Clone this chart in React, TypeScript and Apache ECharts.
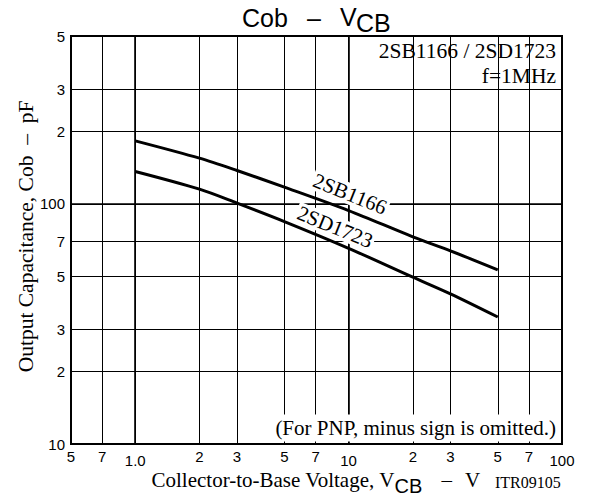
import React, { useEffect, useRef } from 'react';
import * as echarts from 'echarts';

// ---- data ----
const xTicks = [0.5, 0.7, 1, 2, 3, 5, 7, 10, 20, 30, 50, 70, 100];
const xTickLabels = ['5', '7', '1.0', '2', '3', '5', '7', '10', '2', '3', '5', '7', '100'];
const yTicks = [10, 20, 30, 50, 70, 100, 200, 300, 500];
const yTickLabels = ['10', '2', '3', '5', '7', '100', '2', '3', '5'];
const decadeX = [1, 10, 100];
const decadeY = [100];

const vcb = [1, 2, 3, 5, 10, 20, 30, 50];
const cob2SB1166 = [183, 155, 137.7, 117.4, 93.8, 72.9, 63.7, 53.1];
const cob2SD1723 = [136.4, 115.1, 100.7, 84.4, 65.3, 49.5, 42.2, 33.8];

const SANS = '"Liberation Sans", Arial, sans-serif';
const SERIF = '"Liberation Serif", "Times New Roman", serif';

function lookup(ticks: number[], labels: string[], v: number): string {
  for (let i = 0; i < ticks.length; i++) {
    if (Math.abs(Math.log10(ticks[i]) - Math.log10(v)) < 1e-6) return labels[i];
  }
  return '';
}
function isIn(arr: number[], v: number) {
  return arr.some((a) => Math.abs(Math.log10(a) - Math.log10(v)) < 1e-6);
}

export default function App() {
  const ref = useRef<HTMLDivElement>(null);
  useEffect(() => {
    if (!ref.current) return;
    const chart = echarts.init(ref.current, undefined, { renderer: 'svg' });
    const txt = (
      x: number,
      y: number,
      text: string,
      font: string,
      align: string,
      extra: any = {},
      styleExtra: any = {}
    ) => ({
      type: 'text',
      x,
      y,
      z: 5,
      ...extra,
      style: { text, font, fill: '#000', align, verticalAlign: 'middle', ...styleExtra },
    });
    const deg = Math.PI / 180;
    const option: any = {
      animation: false,
      backgroundColor: '#fff',
      grid: {
        left: 71,
        right: 27,
        top: 36,
        bottom: 53,
        show: true,
        borderColor: '#000',
        borderWidth: 2,
        backgroundColor: 'transparent',
        containLabel: false,
        outerBoundsMode: 'none',
      },
      xAxis: [
        {
          type: 'log',
          logBase: 10,
          min: 0.5,
          max: 100,
          axisLine: { show: false },
          axisTick: { show: false, customValues: xTicks },
          axisLabel: {
            customValues: xTicks,
            margin: 5,
            color: '#000',
            fontFamily: SANS,
            fontSize: 15,
            hideOverlap: false,
            formatter: (v: number) => {
              const l = lookup(xTicks, xTickLabels, v);
              return isIn(decadeX, v) ? `{d|${l}}` : `{n|${l}}`;
            },
            rich: {
              n: { fontFamily: SANS, fontSize: 15, color: '#000' },
              d: { fontFamily: SANS, fontSize: 15, color: '#000', padding: [4, 0, 0, 0] },
            },
          },
          splitLine: { show: true, lineStyle: { color: '#000', width: 1 } },
        },
        {
          type: 'log',
          logBase: 10,
          min: 0.5,
          max: 100,
          position: 'top',
          axisLine: { show: false },
          axisTick: { show: false, customValues: decadeX },
          axisLabel: { show: false },
          splitLine: { show: true, lineStyle: { color: '#000', width: 1.6 } },
        },
      ],
      yAxis: [
        {
          type: 'log',
          logBase: 10,
          min: 10,
          max: 500,
          axisLine: { show: false },
          axisTick: { show: false, customValues: yTicks },
          axisLabel: {
            customValues: yTicks,
            margin: 6,
            color: '#000',
            fontFamily: SANS,
            fontSize: 15,
            hideOverlap: false,
            formatter: (v: number) => lookup(yTicks, yTickLabels, v),
          },
          splitLine: { show: true, lineStyle: { color: '#000', width: 1 } },
        },
        {
          type: 'log',
          logBase: 10,
          min: 10,
          max: 500,
          position: 'right',
          axisLine: { show: false },
          axisTick: { show: false, customValues: decadeY },
          axisLabel: { show: false },
          splitLine: { show: true, lineStyle: { color: '#000', width: 1.6 } },
        },
      ],
      series: [
        {
          type: 'line',
          name: '2SB1166',
          data: vcb.map((v, i) => [v, cob2SB1166[i]]),
          symbol: 'none',
          showSymbol: false,
          smooth: 0.3,
          z: 4,
          lineStyle: { color: '#000', width: 3 },
        },
        {
          type: 'line',
          name: '2SD1723',
          data: vcb.map((v, i) => [v, cob2SD1723[i]]),
          symbol: 'none',
          showSymbol: false,
          smooth: 0.3,
          z: 4,
          lineStyle: { color: '#000', width: 3 },
        },
      ],
      graphic: {
        elements: [
          // title
          txt(242, 18.3, 'Cob', `25px ${SANS}`, 'left'),
          txt(307, 18.3, '–', `25px ${SANS}`, 'left'),
          txt(340, 16.8, 'V', `25px ${SANS}`, 'left'),
          txt(356, 23.3, 'CB', `25px ${SANS}`, 'left'),
          // top-right notes
          txt(556, 50.7, '2SB1166 / 2SD1723', `21.5px ${SERIF}`, 'right'),
          txt(556, 75.7, 'f=1MHz', `21.5px ${SERIF}`, 'right'),
          // curve labels
          txt(350, 194, '2SB1166', `21px ${SERIF}`, 'center', { rotation: -22 * deg, z: 2 }, {
            backgroundColor: '#fff',
            padding: [0, 2, 0, 2],
          }),
          txt(335, 227, '2SD1723', `21px ${SERIF}`, 'center', { rotation: -22 * deg, z: 2 }, {
            backgroundColor: '#fff',
            padding: [0, 2, 0, 2],
          }),
          // note
          txt(558, 427.9, '(For PNP, minus sign is omitted.)', `21px ${SERIF}`, 'right', { z: 2 }, {
            backgroundColor: '#fff',
            padding: [3, 2, 3, 3],
          }),
          // y axis name
          txt(25.7, 236.5, 'Output Capacitance, Cob  –  pF', `21.5px ${SERIF}`, 'center', {
            rotation: Math.PI / 2,
          }),
          // x axis name
          txt(151.5, 479.9, 'Collector-to-Base Voltage, V', `21px ${SERIF}`, 'left'),
          txt(394.5, 486, 'CB', `20px ${SANS}`, 'left'),
          txt(441.5, 479.9, '–', `21px ${SERIF}`, 'left'),
          txt(465, 479.9, 'V', `21px ${SERIF}`, 'left'),
          txt(495, 482.6, 'ITR09105', `16px ${SERIF}`, 'left'),
        ],
      },
    };
    chart.setOption(option);
    return () => chart.dispose();
  }, []);
  return (
    <div
      ref={ref}
      style={{ position: 'fixed', left: 0, top: 0, width: 589, height: 497, background: '#fff' }}
    />
  );
}
